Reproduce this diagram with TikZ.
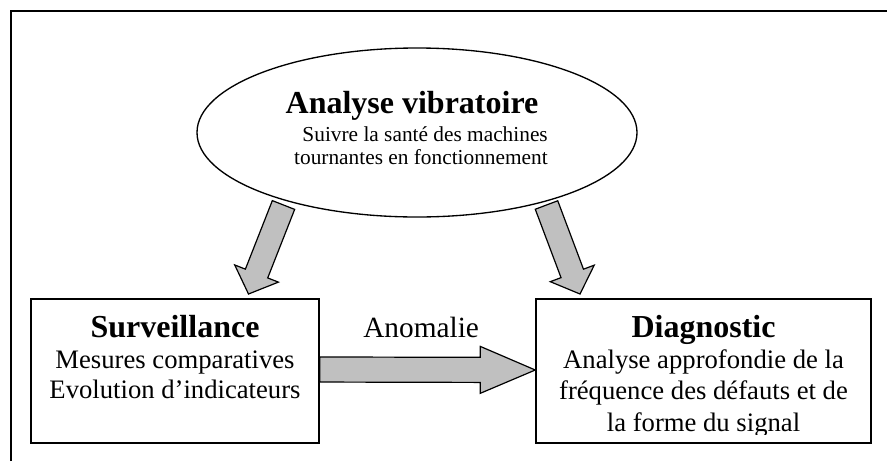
\documentclass[tikz,border=0pt]{standalone}
\usepackage{fontspec}
\setmainfont{Liberation Serif}
\usetikzlibrary{shapes.geometric,calc}
\definecolor{arrowgray}{RGB}{192,192,192}
\newcommand\myblockarrow[6]{%
  \coordinate (#6b) at ($(#2)!#5!(#1)$);
  \filldraw[blockarrow] ($(#1)!#3!90:(#2)$) -- ($(#6b)!#3!-90:(#1)$) -- ($(#6b)!#4!-90:(#1)$) -- (#2) -- ($(#6b)!#4!90:(#1)$) -- ($(#6b)!#3!90:(#1)$) -- ($(#1)!#3!-90:(#2)$) -- cycle;}
\begin{document}
\begin{tikzpicture}[x=0.75pt,y=-0.75pt,
  frameline/.style={line width=1.5pt},
  boxnode/.style={draw, line width=1.1pt, rectangle, inner sep=0},
  ellnode/.style={draw, line width=1pt, ellipse, inner sep=0, minimum width=330pt, minimum height=126.75pt},
  blockarrow/.style={fill=arrowgray, draw=black, line width=0.9pt, line join=miter},
  titletext/.style={font=\fontsize{24}{28}\selectfont\bfseries, inner sep=0, anchor=base},
  ellsub/.style={font=\fontsize{16}{19}\selectfont, inner sep=0, anchor=base east},
  boxsub/.style={font=\fontsize{20}{23}\selectfont, inner sep=0, anchor=base},
  labeltext/.style={font=\fontsize{22}{26}\selectfont, inner sep=0, anchor=base west}]
\useasboundingbox (0,0) rectangle (887,461);
\fill[white] (0,0) rectangle (887,461);
% frame
\coordinate (fbl) at (11,461);
\coordinate (ftl) at (11,11);
\coordinate (ftr) at (887,11);
\draw[frameline] (fbl) -- (ftl) -- (ftr);
% ellipse
\node[ellnode] (vib) at (417,132.5) {};
\node[titletext] (vibtitle) at (412,113) {Analyse vibratoire};
\node[ellsub] (vibline1) at (548,141.5) {Suivre la santé des machines};
\node[ellsub] (vibline2) at (548,164) {tournantes en fonctionnement};
% left box
\node[boxnode, minimum width=216pt, minimum height=108pt] (surv) at (175,371) {};
\node[titletext] (survtitle) at (175,337) {Surveillance};
\node[boxsub] (survline1) at (175,368) {Mesures comparatives};
\node[boxsub] (survline2) at (175,398) {Evolution d’indicateurs};
% right box
\node[boxnode, minimum width=251.25pt, minimum height=108pt] (diag) at (703.5,371) {};
\begin{scope}
\clip (536,299) rectangle (871,434);
\node[titletext] (diagtitle) at (703.5,337) {Diagnostic};
\node[boxsub] (diagline1) at (703.5,368) {Analyse approfondie de la};
\node[boxsub] (diagline2) at (703.5,399.5) {fréquence des défauts et de};
\node[boxsub] (diagline3) at (703.5,431) {la forme du signal};
\end{scope}
% label
\node[labeltext] (anom) at (363,337) {Anomalie};
% arrows
\coordinate (las) at (283.5,205);
\coordinate (lae) at (248.5,294);
\coordinate (ras) at (546.5,205);
\coordinate (rae) at (580,294);
\coordinate (has) at ($(surv.east)+(0,-1.5)$);
\coordinate (hae) at ($(diag.west)+(0,-1)$);
\myblockarrow{las}{lae}{9pt}{17.6pt}{16.5pt}{la}
\myblockarrow{ras}{rae}{9pt}{17.6pt}{16.5pt}{ra}
\myblockarrow{has}{hae}{9.4pt}{17.6pt}{41.25pt}{ha}
\end{tikzpicture}
\end{document}
